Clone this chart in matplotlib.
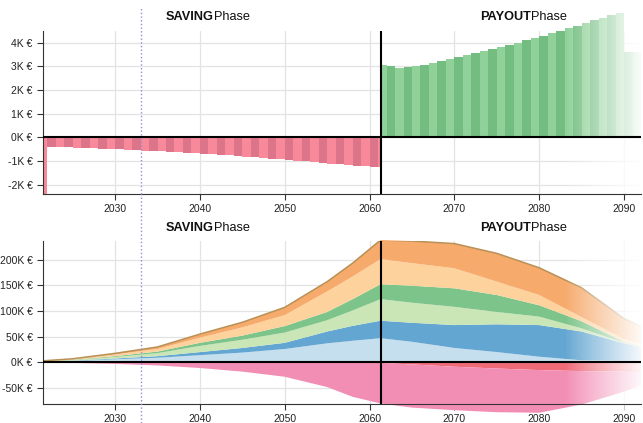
import numpy as np
import matplotlib.pyplot as plt
from matplotlib.ticker import FuncFormatter
from matplotlib.transforms import blended_transform_factory

plt.rcParams['font.family'] = ['Liberation Sans', 'DejaVu Sans']

# --- data ---------------------------------------------------------------
phase_switch = 2061.3      # saving -> payout
today = 2033.1             # dotted marker
x_end = 2092.0

# top chart: yearly cash flow in K EUR
sav_years = [2021.5] + list(range(2022, 2062))
sav_flow = [-2.5,
            -0.42, -0.42, -0.42, -0.44, -0.45, -0.46, -0.48, -0.49, -0.50, -0.52,
            -0.54, -0.56, -0.58, -0.60, -0.62, -0.64, -0.66, -0.68, -0.70, -0.72,
            -0.74, -0.77, -0.79, -0.82, -0.84, -0.87, -0.90, -0.93, -0.96, -0.99,
            -1.02, -1.05, -1.08, -1.11, -1.14, -1.17, -1.20, -1.23, -1.25, -1.27]
pay_years = [2061.3] + list(range(2062, 2092))
pay_flow = [3.06, 3.00, 2.95, 2.97, 3.02, 3.08, 3.15, 3.25, 3.33, 3.42,
            3.50, 3.58, 3.66, 3.74, 3.83, 3.92, 4.00, 4.10, 4.20, 4.30,
            4.42, 4.52, 4.62, 4.72, 4.84, 4.95, 5.05, 5.17, 5.28, 3.62, 3.60]

# bottom chart: balance by component in K EUR
bal_years = [2021.5, 2025, 2030, 2035, 2040, 2045, 2050, 2055, 2058, 2061.3,
             2065, 2070, 2075, 2080, 2085, 2090, 2092]
lay_lblue  = [1.0, 2.5, 6, 9, 14, 19, 26, 37, 42, 47, 40, 28, 20, 11, 4, 3, 3]
lay_blue   = [0.3, 0.7, 1.5, 3, 6, 9, 12, 23, 29, 34, 37, 44.5, 54, 61.5, 56, 34, 27]
lay_lgreen = [0.7, 1.4, 3, 6, 12, 16, 20, 22, 30, 42, 39, 35.5, 24, 16.5, 6, 1, 1]
lay_green  = [0.3, 0.6, 1.5, 3, 6, 8, 12.6, 16, 22, 29, 33, 36, 33, 22, 14, 2, 1]
lay_lorange = [0.5, 1.2, 3.5, 5, 10, 16, 21.4, 40, 44, 49, 44, 39, 26, 20, 8, 5, 4]
lay_orange = [0.2, 0.6, 2, 4, 7, 10, 15, 19, 26, 37, 43, 48, 55, 53, 57, 40, 34]
lay_red    = [0, 0, 0, 0, 0, 0, 0, 0, 0, -1, -4, -8.5, -12, -15, -17, -18, -19]
lay_pink   = [0, -1, -3, -6, -11, -18, -28, -48, -67, -79, -84, -84.5, -85, -83, -65, -39, -26]

top_ticks = [-2, -1, 0, 1, 2, 3, 4]
bot_ticks = [-50, 0, 50, 100, 150, 200]
x_ticks = [2030, 2040, 2050, 2060, 2070, 2080, 2090]

# --- figure -------------------------------------------------------------
fig = plt.figure(figsize=(6.43, 4.23), dpi=100)
ax1 = fig.add_axes([0.0669, 0.5414, 0.930, 0.3853])
ax2 = fig.add_axes([0.0669, 0.0449, 0.930, 0.3853])

kfmt = FuncFormatter(lambda v, p: f'{int(round(v))}K €')


def fade(ax, y0, y1):
    xs = np.linspace(0, 1, 200)
    a = xs ** 0.9 * 0.95
    img = np.ones((1, 200, 4))
    img[0, :, 3] = a
    ax.imshow(img, extent=(2083, x_end, y0, y1), aspect='auto',
              zorder=2.4, clip_on=False, interpolation='bilinear')


def style(ax, ylim, ticks):
    ax.set_xlim(2021.5, x_end)
    ax.set_ylim(*ylim)
    ax.set_yticks(ticks)
    ax.set_xticks(x_ticks)
    ax.yaxis.set_major_formatter(kfmt)
    # grid by hand so the axis (labels) can stay on top of the fade
    for t in ticks:
        ax.axhline(t, color='#e3e3e3', lw=0.9, zorder=0.5)
    for t in x_ticks:
        ax.axvline(t, color='#e3e3e3', lw=0.9, zorder=0.5)
    for s in ['top', 'right']:
        ax.spines[s].set_visible(False)
    ax.spines['left'].set_color('#333333')
    ax.spines['bottom'].set_color('#333333')
    ax.tick_params(labelsize=7.5, length=4, color='#333333', labelcolor='#222222')
    ax.axhline(0, color='black', lw=1.5, zorder=4)
    ax.set_facecolor('none')


# top: cash flow bars
sav_w = np.diff(sav_years + [phase_switch])
sav_c = ['#f7899b' if i % 2 == 0 else '#dc7589' for i in range(len(sav_flow))]
ax1.bar(sav_years, sav_flow, width=sav_w, align='edge', color=sav_c, lw=0, zorder=2)
pay_w = np.diff(pay_years + [x_end])
pay_c = ['#8fd198' if i % 2 == 0 else '#74bd80' for i in range(len(pay_flow))]
bars = ax1.bar(pay_years, pay_flow, width=pay_w, align='edge', color=pay_c, lw=0, zorder=2)
for b in bars:
    b.set_clip_on(False)
fade(ax1, -2.4, 5.6)
style(ax1, (-2.4, 4.5), top_ticks)
ax1.axvline(phase_switch, color='black', lw=1.5, zorder=4)
ax1.axvline(today, ymin=0, ymax=1.141, color='#8c90d8', ls=':', lw=1, clip_on=False, zorder=5)

# bottom: stacked balance
pos = ax2.stackplot(bal_years, lay_lblue, lay_blue, lay_lgreen, lay_green, lay_lorange, lay_orange,
                    colors=['#c5dfee', '#64a6d2', '#cae5b6', '#7cc489', '#fdd29d', '#f6aa6c'],
                    lw=0, zorder=2)
neg = ax2.stackplot(bal_years, lay_red, lay_pink, colors=['#ef6b78', '#f28db4'], lw=0, zorder=2)
for p in pos + neg:
    p.set_clip_on(False)
total = np.sum([lay_lblue, lay_blue, lay_lgreen, lay_green, lay_lorange, lay_orange], axis=0)
ax2.plot(bal_years, total, color='#b99157', lw=1.1, zorder=2.2)
fade(ax2, -100, 240)
style(ax2, (-81, 236), bot_ticks)
ax2.axvline(phase_switch, color='black', lw=1.5, zorder=4)
ax2.axvline(today, ymin=-0.117, ymax=1.288, color='#8c90d8', ls=':', lw=1, clip_on=False, zorder=5)

# phase titles
for ax, ty in [(ax1, 1.086), (ax2, 1.08)]:
    tr = blended_transform_factory(ax.transData, ax.transAxes)
    ax.text(2041.66, ty, 'SAVING', transform=tr, ha='right', va='center',
            fontsize=9.2, fontweight='bold', color='#111111', zorder=6)
    ax.text(2041.66, ty, 'Phase', transform=tr, ha='left', va='center',
            fontsize=9.2, color='#111111', zorder=6)
    ax.text(2079.03, ty, 'PAYOUT', transform=tr, ha='right', va='center',
            fontsize=9.2, fontweight='bold', color='#111111', zorder=6)
    ax.text(2079.03, ty, 'Phase', transform=tr, ha='left', va='center',
            fontsize=9.2, color='#111111', zorder=6)

plt.savefig('out.png', dpi=100)
